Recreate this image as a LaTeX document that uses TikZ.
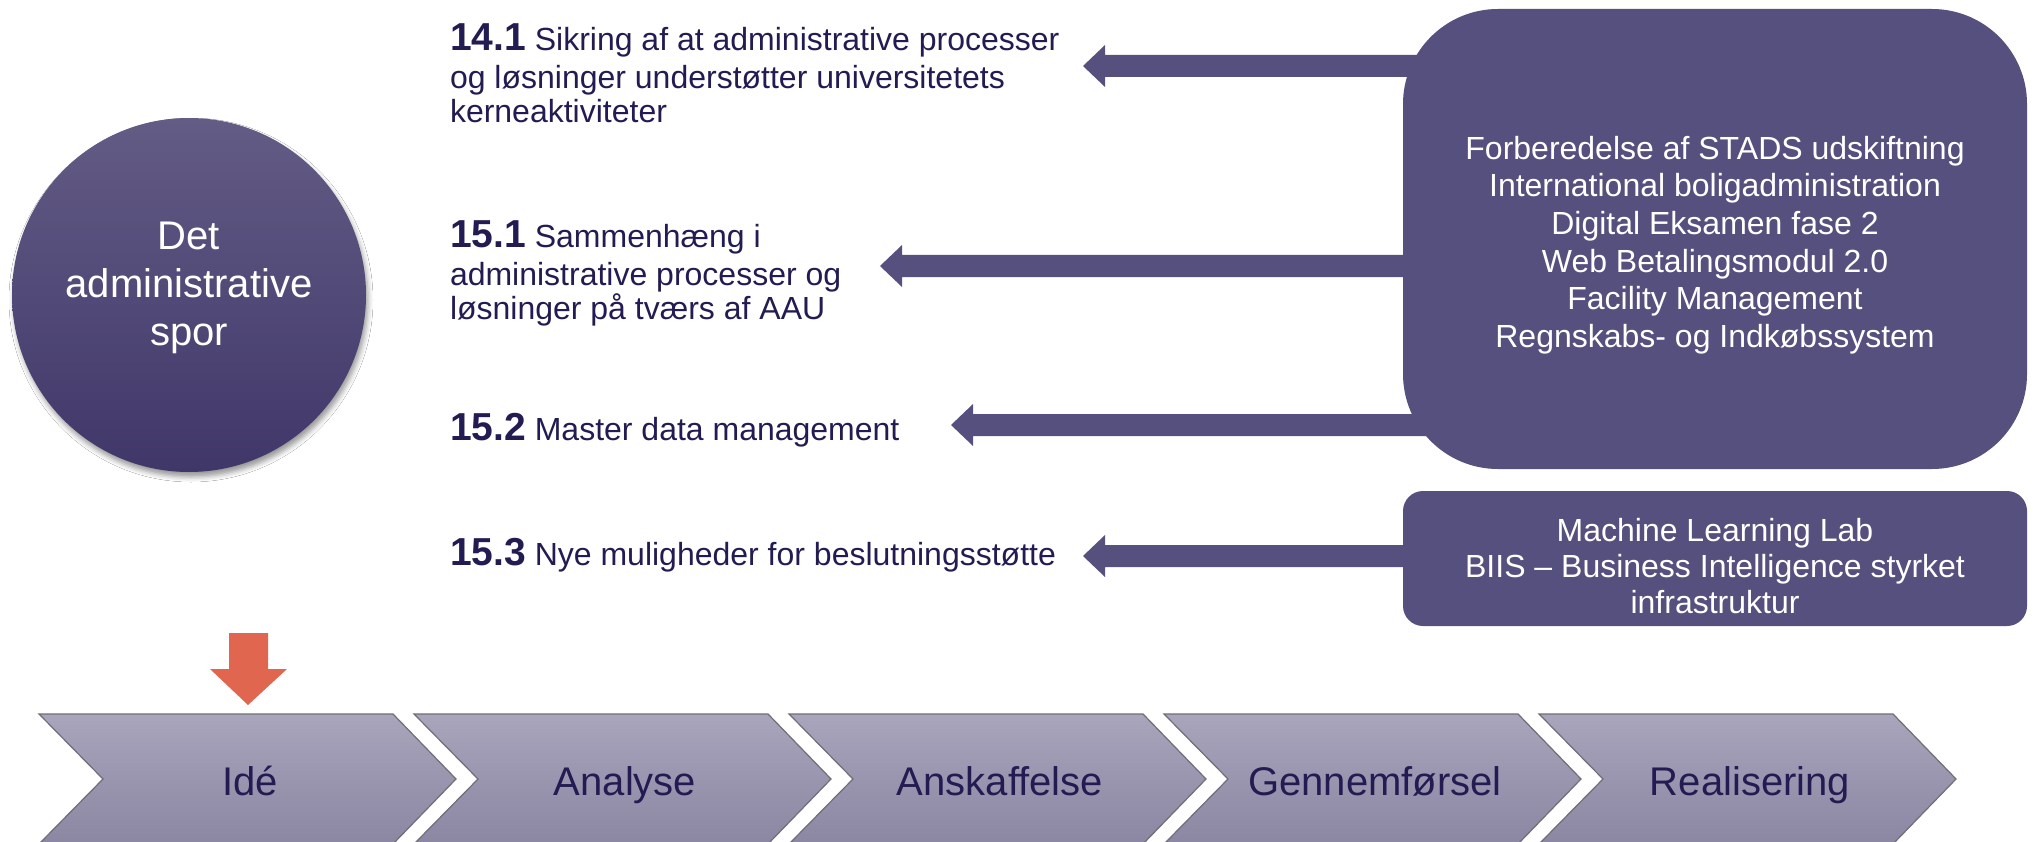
\documentclass[tikz,border=0pt]{standalone}
\usepackage{fontspec}
\setmainfont{Liberation Sans}
\usetikzlibrary{calc,shadows.blur}
\definecolor{boxcol}{RGB}{85,80,125}
\definecolor{navy}{RGB}{34,28,82}
\definecolor{chevtop}{RGB}{169,165,188}
\definecolor{chevbot}{RGB}{139,134,162}
\definecolor{circtop}{RGB}{99,92,133}
\definecolor{circbot}{RGB}{64,55,105}
\definecolor{redarrow}{RGB}{224,102,80}
\definecolor{chevline}{RGB}{110,110,118}
\newcommand\bignum[1]{{\fontsize{39}{39}\selectfont\bfseries #1}}
\newcommand\flowarrow[2]{\fill[arrowfill] (#1) -- ($(#1)+(22,-21)$) -- ($(#1)+(22,-11)$) -- ($(#2)+(0,-11)$) -- ($(#2)+(0,11)$) -- ($(#1)+(22,11)$) -- ($(#1)+(22,21)$) -- cycle;}
\begin{document}
\begin{tikzpicture}[x=1pt,y=-1pt,
  every node/.style={inner sep=0pt, outer sep=0pt},
  lefttext/.style={text=navy, font=\fontsize{32}{34}\selectfont, align=left, anchor=base west},
  panel/.style={fill=boxcol},
  paneltext/.style={text=white, font=\fontsize{32}{37.6}\selectfont, align=center},
  arrowfill/.style={fill=boxcol},
  chevron/.style={top color=chevtop, bottom color=chevbot, draw=chevline, line width=1.2pt, line join=miter},
  chevtext/.style={text=navy, font=\fontsize{40}{48}\selectfont, anchor=base}
]
\fill[white] (0,0) rectangle (2033,842);
\useasboundingbox (0,0) rectangle (2033,842);

% circle
\node[circle, minimum size=354pt, top color=circtop, bottom color=circbot,
  blur shadow={shadow xshift=2pt, shadow yshift=-5pt, shadow blur radius=5pt, shadow opacity=40}] (spor) at (189,295) {};
\node[text=white, font=\fontsize{40}{48}\selectfont, align=center] (sporlabel) at (189,288) {Det\\administrative\\spor};

% goal texts (base anchor = baseline of last line)
\node[lefttext] (g141) at (450,123) {\bignum{14.1} Sikring af at administrative processer\\[4pt]og løsninger understøtter universitetets\\kerneaktiviteter};
\node[lefttext] (g151) at (450,319) {\bignum{15.1} Sammenhæng i\\[4pt]administrative processer og\\løsninger på tværs af AAU};
\node[lefttext] (g152) at (450,440) {\bignum{15.2} Master data management};
\node[lefttext] (g153) at (450,565) {\bignum{15.3} Nye muligheder for beslutningsstøtte};

% project boxes
\node[panel, rounded corners=95pt, minimum width=624pt, minimum height=460pt, anchor=north west] (bigbox) at (1403,9) {};
\node[paneltext] (bigtext) at ($(bigbox.center)+(0,6)$)
  {Forberedelse af STADS udskiftning\\International boligadministration\\Digital Eksamen fase 2\\Web Betalingsmodul 2.0\\Facility Management\\Regnskabs- og Indkøbssystem};
\node[panel, rounded corners=20pt, minimum width=624pt, minimum height=135pt, anchor=north west] (smallbox) at (1403,491) {};
\node[paneltext, font=\fontsize{32}{36}\selectfont] (smalltext) at ($(smallbox.center)+(0,8)$)
  {Machine Learning Lab\\BIIS – Business Intelligence styrket\\infrastruktur};

% arrows
\coordinate (t1) at (1083,66);
\coordinate (t2) at (880,266);
\coordinate (t3) at (951,425);
\coordinate (t4) at (1083,556);
\coordinate (s1) at ($(bigbox.west |- t1)+(30,0)$);
\coordinate (s2) at ($(bigbox.west |- t2)+(10,0)$);
\coordinate (s3) at ($(bigbox.west |- t3)+(35,0)$);
\coordinate (s4) at ($(smallbox.west |- t4)+(10,0)$);
\flowarrow{t1}{s1}
\flowarrow{t2}{s2}
\flowarrow{t3}{s3}
\flowarrow{t4}{s4}

% chevrons
\foreach \i/\lab in {0/Idé,1/Analyse,2/Anskaffelse,3/Gennemførsel,4/Realisering}{
  \pgfmathsetmacro\o{375*\i}
  \draw[chevron] (39+\o,714) -- (393+\o,714) -- (456+\o,779) -- (393+\o,844) -- (39+\o,844) -- (103+\o,779) -- cycle;
  \node[chevtext] (ph\i) at (250+\o,795) {\lab};
}

% red marker arrow
\fill[redarrow] (229,633) -- (268,633) -- (268,669) -- (287,669) -- (248,705) -- (210,669) -- (229,669) -- cycle;
\coordinate (redtip) at (248,705);
\end{tikzpicture}
\end{document}
